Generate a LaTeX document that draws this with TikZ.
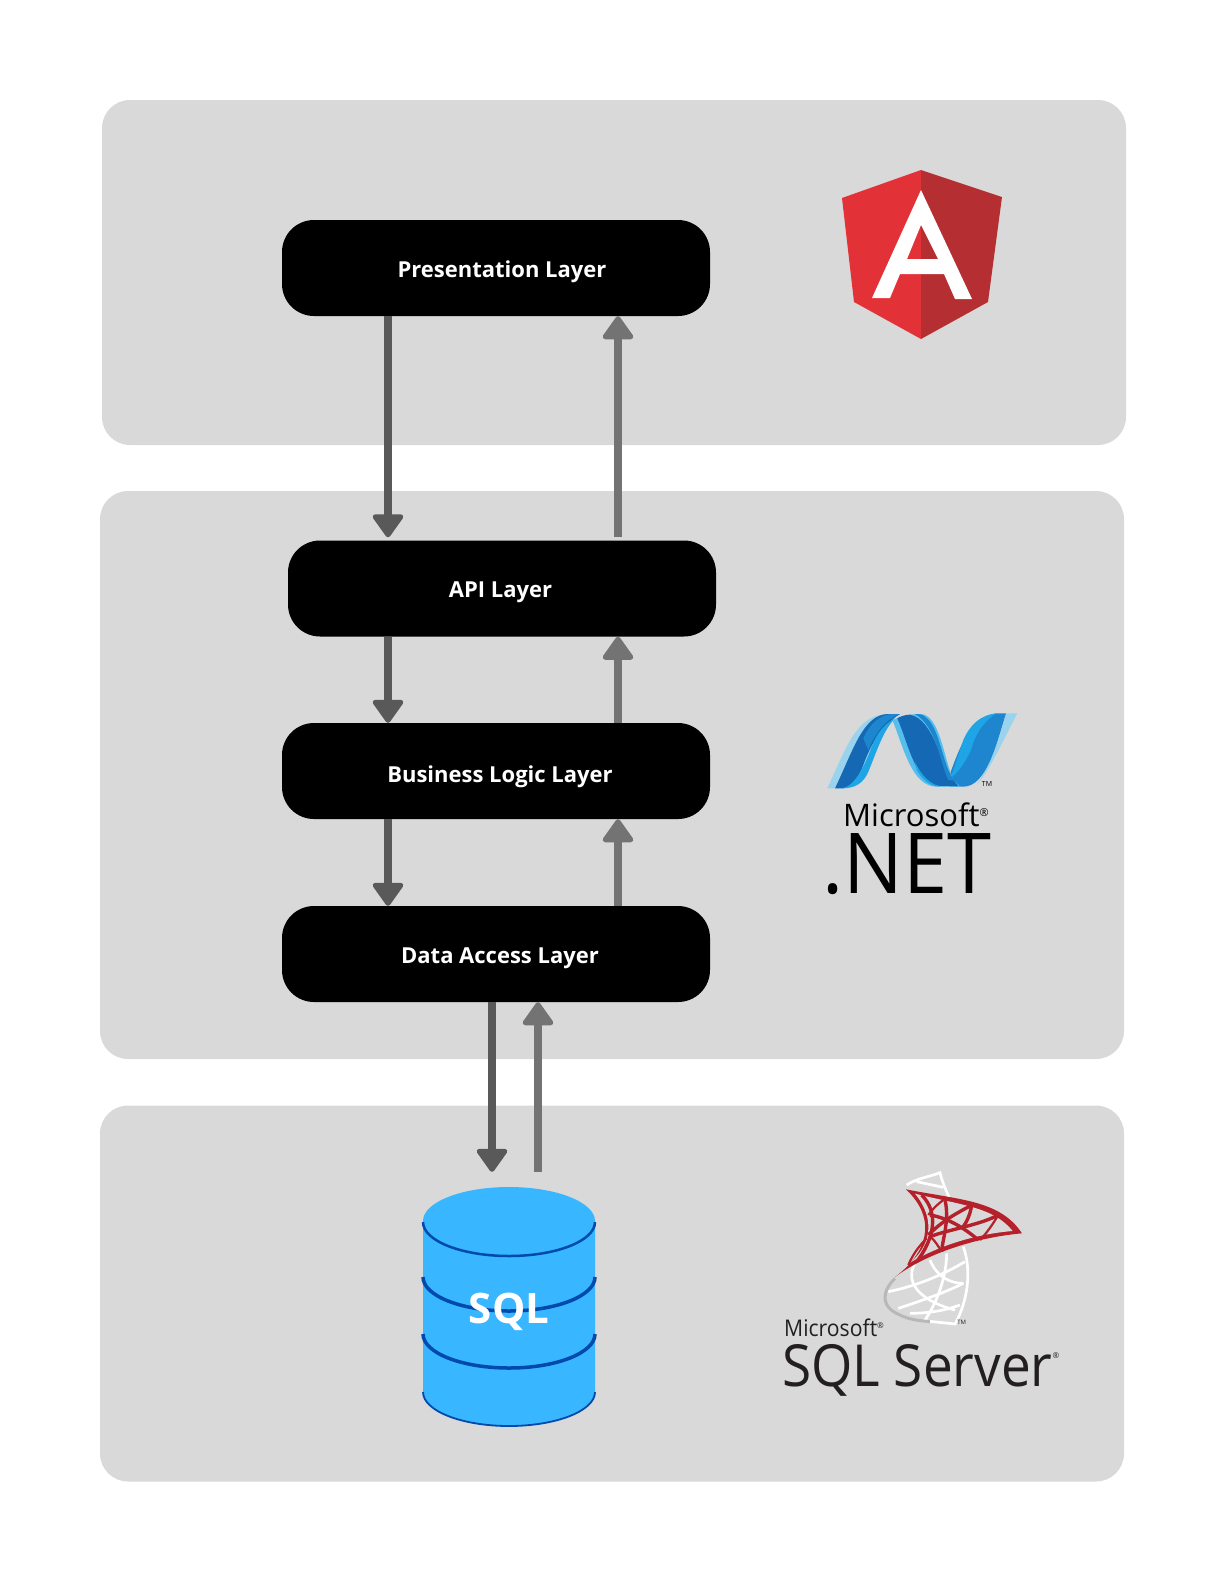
\documentclass[tikz,border=0pt]{standalone}
\usepackage{fontspec}
\setmainfont{Open Sans}
\usetikzlibrary{arrows.meta}
\definecolor{panelgray}{HTML}{D9D9D9}
\definecolor{dkarrow}{HTML}{595959}
\definecolor{ltarrow}{HTML}{737373}
\definecolor{dbblue}{HTML}{38B6FF}
\definecolor{dbband}{HTML}{004AAD}
\definecolor{ngred}{HTML}{E23237}
\definecolor{ngdark}{HTML}{B52E31}
\definecolor{sqlred}{HTML}{B5202A}
\definecolor{sqlink}{HTML}{231F20}
\definecolor{netdeep}{HTML}{1569B4}
\definecolor{netmid}{HTML}{1E86CE}
\definecolor{netcyan}{HTML}{1FA5E6}
\definecolor{netlight}{HTML}{56BEEC}
\definecolor{netpale}{HTML}{9AD3EE}
\begin{document}
\begin{tikzpicture}[x=1pt,y=-1pt,
	panel/.style={fill=panelgray,rounded corners=28pt,inner sep=0pt},
	layer/.style={fill=black,text=white,rounded corners=32pt,inner sep=0pt,minimum width=428pt,minimum height=96pt,text height=22pt,text depth=3.5pt,font=\fontsize{22}{24}\selectfont\bfseries},
	fwd/.style={line width=8pt,dkarrow,-{Triangle[width=34pt,length=25pt,line width=5pt,round]}},
	back/.style={line width=8pt,ltarrow,-{Triangle[width=34pt,length=25pt,line width=5pt,round]}}]
	\useasboundingbox (0,0) rectangle (1226,1583);
	\path (614,272.5) node(panelTop)[panel,minimum width=1024pt,minimum height=345pt]{}
	(612,775) node(panelMid)[panel,minimum width=1024pt,minimum height=568pt]{}
	(612,1293.5) node(panelLow)[panel,minimum width=1024pt,minimum height=376pt]{};
	\path (496,268) node(pres)[layer]{\hspace*{12pt}Presentation Layer}
	(502,588.5) node(api)[layer]{API Layer\hspace*{3pt}}
	(496,771) node(biz)[layer,text height=26pt]{\hspace*{8pt}Business Logic Layer}
	(496,954) node(data)[layer]{\hspace*{8pt}Data Access Layer};
	% database
	\path[fill=dbblue] (423,1221) arc[start angle=180,end angle=360,x radius=86,y radius=34] -- (595,1392) arc[start angle=0,end angle=180,x radius=86,y radius=34] -- cycle;
	\draw[dbband,line width=2.5pt] (423,1222) arc[start angle=180,end angle=0,x radius=86,y radius=34];
	\foreach \yy in {1277,1334}
		\draw[dbband,line width=3.5pt] (423,\yy) arc[start angle=180,end angle=0,x radius=86,y radius=34];
	\draw[dbband,line width=1.8pt] (423,1392) arc[start angle=180,end angle=0,x radius=86,y radius=34];
	\path (509,1306.5) node(db)[minimum width=172pt,minimum height=237pt,inner sep=0pt,text=white,text height=41pt,text depth=8pt,font=\fontsize{42}{42}\selectfont\bfseries]{SQL};
	% arrows
	\draw [fwd,shorten >=3pt] ([xshift=-108pt]pres.south) -- ([xshift=-114pt]api.north);
	\draw [back,shorten <=3pt] ([xshift=116pt]api.north) -- ([xshift=122pt]pres.south);
	\draw [fwd] ([xshift=-114pt]api.south) -- ([xshift=-108pt]biz.north);
	\draw [back] ([xshift=122pt]biz.north) -- ([xshift=116pt]api.south);
	\draw [fwd] ([xshift=-108pt]biz.south) -- ([xshift=-108pt]data.north);
	\draw [back] ([xshift=122pt]data.north) -- ([xshift=122pt]biz.south);
	\draw [fwd,shorten >=16pt] ([xshift=-4pt]data.south) -- ([xshift=-17pt]db.north);
	\draw [back,shorten <=16pt] ([xshift=29pt]db.north) -- ([xshift=42pt]data.south);
	% angular logo
	\fill[ngred] (921,170) -- (842,198) -- (854,302) -- (921,339) -- cycle;
	\fill[ngdark] (921,170) -- (1002,197) -- (988,302) -- (921,339) -- cycle;
	\fill[white,even odd rule] (921,190) -- (972,299) -- (955,299) -- (944,274) -- (900,274) -- (890,298) -- (872,298) -- cycle
	(921,225) -- (938,259) -- (907,259) -- cycle;
	% dotnet logo
	\begin{scope}[xshift=800pt,yshift=-690pt,x=.3333pt,y=-.3333pt]
		% left band
		\fill[netpale] (82,295) .. controls (140,170) and (170,72) .. (265,72) -- (300,72) .. controls (250,100) and (230,185) .. (205,245) .. controls (190,280) and (165,295) .. (130,295) -- cycle;
		\fill[netdeep] (105,295) .. controls (160,180) and (190,72) .. (265,72) -- (300,72) .. controls (240,110) and (210,170) .. (190,225) .. controls (170,275) and (150,295) .. (125,295) -- cycle;
		\fill[netmid] (190,145) .. controls (210,100) and (240,75) .. (275,72) -- (300,72) .. controls (255,90) and (225,130) .. (205,180) -- cycle;
		\fill[netcyan] (125,295) .. controls (165,290) and (195,225) .. (215,170) .. controls (230,130) and (255,100) .. (285,85) .. controls (250,120) and (230,185) .. (205,245) .. controls (190,280) and (165,295) .. (125,295) -- cycle;
		% right band
		\fill[netpale] (618,70) -- (652,70) .. controls (610,150) and (570,240) .. (530,285) .. controls (575,220) and (600,140) .. (618,70) -- cycle;
		\fill[netmid] (445,265) .. controls (480,170) and (510,80) .. (590,70) -- (618,70) .. controls (590,160) and (560,290) .. (490,290) -- (450,290) -- cycle;
		\fill[netcyan] (490,150) .. controls (510,105) and (540,75) .. (590,70) .. controls (560,85) and (525,130) .. (515,175) .. controls (500,210) and (475,250) .. (450,265) .. controls (465,230) and (480,180) .. (490,150) -- cycle;
		% middle band
		\fill[netlight] (278,92) .. controls (310,170) and (335,290) .. (410,290) -- (480,290) -- (460,270) .. controls (430,200) and (420,80) .. (365,72) .. controls (330,72) and (300,76) .. (278,92) -- cycle;
		\fill[netdeep] (292,85) .. controls (325,160) and (345,280) .. (420,288) -- (475,288) .. controls (420,230) and (405,90) .. (330,74) .. controls (315,74) and (300,80) .. (292,85) -- cycle;
		\fill[netmid] (375,80) .. controls (420,110) and (425,220) .. (462,272) -- (445,270) .. controls (420,220) and (410,110) .. (345,72) .. controls (360,72) and (370,74) .. (375,80) -- cycle;
		\fill[netcyan] (350,240) .. controls (370,275) and (395,290) .. (420,290) .. controls (390,280) and (365,260) .. (345,215) -- cycle;
		\path (561,282) node(netTm)[inner sep=0pt,font=\fontsize{7}{7}\selectfont]{TM};
	\end{scope}
	\path (843,826) node(netMs)[anchor=base west,inner sep=0pt,font=\fontsize{31}{31}\selectfont]{Microsoft\raisebox{10pt}{\fontsize{11}{11}\selectfont®}}
	(822,893) node(netName)[anchor=base west,inner sep=0pt,text height=60pt,text depth=0pt,font=\fontsize{84}{84}\selectfont]{\scalebox{.945}[1]{.NET}};
	% sql server logo
	\begin{scope}[xshift=760pt,yshift=-1150pt,x=.3333pt,y=-.3333pt]
		\begin{scope}[white,line width=2.7pt]
			\draw (440,105) .. controls (470,85) and (510,80) .. (540,68) .. controls (550,110) and (570,140) .. (575,170);
			\draw (470,95) -- (550,112);
			\draw (610,290) .. controls (635,360) and (625,450) .. (585,522) -- (490,512);
			\draw (560,310) .. controls (560,380) and (530,460) .. (495,510);
			\draw (470,330) .. controls (430,390) and (470,450) .. (585,480);
			\draw (385,425) .. controls (460,410) and (540,380) .. (615,335);
			\draw (415,475) .. controls (490,450) and (550,430) .. (610,400);
			\draw (510,330) .. controls (530,380) and (570,400) .. (610,400);
			\draw (450,490) .. controls (510,490) and (560,480) .. (600,465);
		\end{scope}
		\draw[black!28,line width=3pt] (405,385) .. controls (365,425) and (360,470) .. (420,495) .. controls (450,510) and (480,512) .. (510,515);
		\fill[sqlred] (438,118) .. controls (600,150) and (720,150) .. (786,250) .. controls (650,262) and (500,310) .. (405,381) .. controls (500,310) and (535,210) .. (438,118) -- cycle;
		\fill[panelgray] (465,131) .. controls (600,165) and (700,170) .. (758,243) .. controls (650,252) and (540,285) .. (450,338) .. controls (510,290) and (530,210) .. (465,131) -- cycle;
		\begin{scope}[sqlred,line width=2.2pt]
			\draw[line width=3.4pt] (485,135) .. controls (540,190) and (520,270) .. (470,335);
			\draw[line width=3.4pt] (555,150) .. controls (570,210) and (545,280) .. (545,305);
			\draw[line width=3.4pt] (635,165) .. controls (630,200) and (615,225) .. (605,235);
			\draw[line width=3.4pt] (510,195) .. controls (570,205) and (620,240) .. (655,270);
			\draw[line width=3.4pt] (715,195) .. controls (660,225) and (560,240) .. (510,260);
			\draw[line width=3.4pt] (630,168) .. controls (590,190) and (550,210) .. (505,255);
			\draw (550,150) .. controls (530,165) and (515,180) .. (505,195);
			\draw (715,195) .. controls (700,220) and (680,250) .. (660,270);
			\draw (510,260) .. controls (525,270) and (535,290) .. (545,305);
			\draw (500,265) .. controls (480,285) and (460,310) .. (445,345);
		\end{scope}
		\path (605,518) node(sqlTm)[text=sqlink,inner sep=0pt,font=\fontsize{6}{6}\selectfont]{TM};
	\end{scope}
	\path (784,1336) node(sqlMs)[anchor=base west,inner sep=0pt,text=sqlink,font=\fontsize{23}{23}\selectfont]{\scalebox{.92}[1]{Microsoft}\raisebox{8pt}{\fontsize{8}{8}\selectfont®}}
	(782,1386) node(sqlName)[anchor=base west,inner sep=0pt,text=sqlink,font=\fontsize{58}{58}\selectfont]{\scalebox{.915}[1]{SQL Server}\raisebox{28pt}{\fontsize{8}{8}\selectfont®}};
\end{tikzpicture}
\end{document}
